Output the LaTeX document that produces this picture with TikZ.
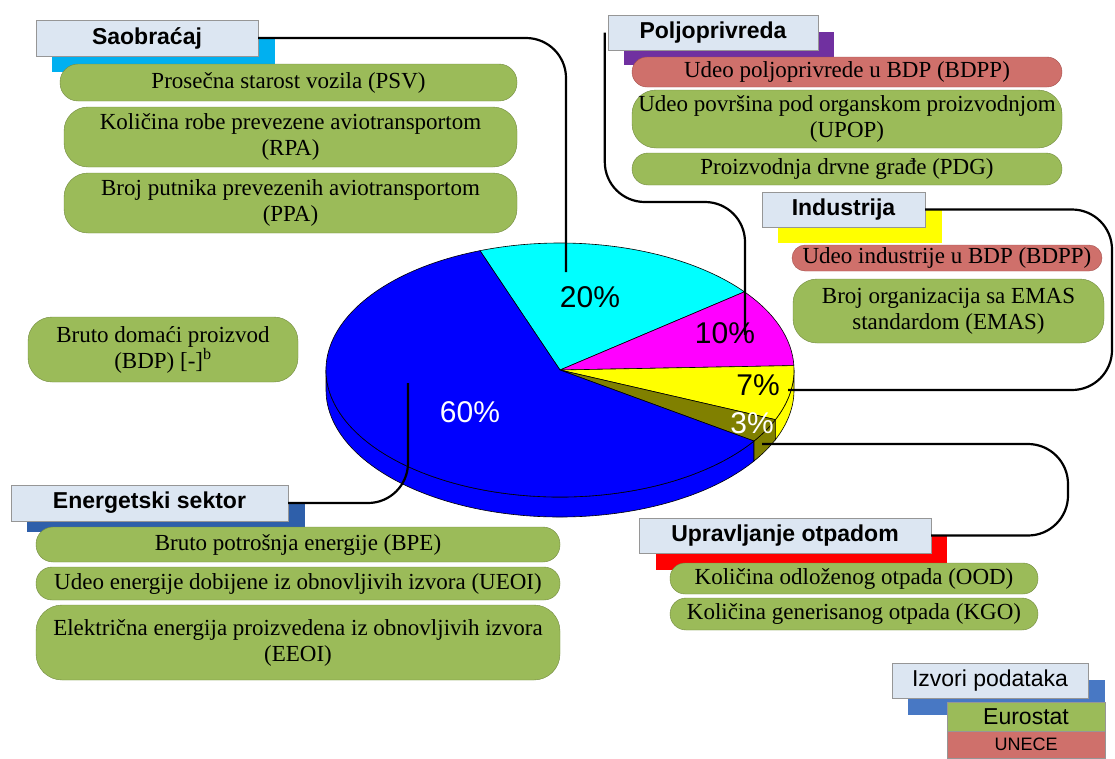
\documentclass[tikz,border=0pt]{standalone}
\usepackage{fontspec}
\setmainfont{Liberation Serif}
\setsansfont{Liberation Sans}
\definecolor{boxgreen}{RGB}{155,187,89}
\definecolor{boxgreenline}{RGB}{113,137,63}
\definecolor{boxred}{RGB}{207,112,107}
\definecolor{boxredline}{RGB}{165,80,76}
\definecolor{hdrfill}{RGB}{220,230,242}
\definecolor{hdrline}{RGB}{150,150,150}
\definecolor{shcyan}{RGB}{0,176,240}
\definecolor{shpurple}{RGB}{112,48,160}
\definecolor{shblue}{RGB}{46,95,170}
\definecolor{shlegend}{RGB}{72,120,196}
\definecolor{shyellow}{RGB}{255,255,0}
\definecolor{shred}{RGB}{255,0,0}
\definecolor{pieblue}{RGB}{0,0,255}
\definecolor{piecyan}{RGB}{0,255,255}
\definecolor{piemag}{RGB}{255,0,255}
\definecolor{pieyellow}{RGB}{255,255,0}
\definecolor{pieolive}{RGB}{128,128,0}
\begin{document}
\begin{tikzpicture}[x=1pt,y=-1pt,
  hdr/.style={draw=hdrline,fill=hdrfill,inner sep=0pt,font=\fontsize{23}{26}\selectfont\sffamily\bfseries},
  ind/.style={draw=boxgreenline,fill=boxgreen,rounded corners=15pt,inner sep=0pt,align=center,font=\fontsize{23}{26}\selectfont},
  indr/.style={ind,draw=boxredline,fill=boxred},
  src/.style={draw=hdrline,inner sep=0pt,font=\fontsize{23}{26}\selectfont\sffamily},
  pct/.style={inner sep=0pt,font=\fontsize{30}{30}\selectfont\sffamily},
  link/.style={line width=2.2pt,rounded corners=40pt}]
\useasboundingbox (0,0) rectangle (1115,758);
% pie
\begin{scope}[shift={(560,370)},x=1pt,y=1pt,line width=.6pt]
\foreach \a/\b/\c in {180/326/pieblue,326/337/pieolive,337/360/pieyellow}
  \filldraw[fill=\c] (\a:234pt and 127pt) arc[start angle=\a,end angle=\b,x radius=234pt,y radius=127pt]
    -- ++(0,-20) arc[start angle=\b,end angle=\a,x radius=234pt,y radius=127pt] -- cycle;
\foreach \a/\b/\c in {38/110/piecyan,2/38/piemag,-23/2/pieyellow,-34/-23/pieolive,110/326/pieblue}
  \filldraw[fill=\c] (0,0) -- (\a:234pt and 127pt) arc[start angle=\a,end angle=\b,x radius=234pt,y radius=127pt] -- cycle;
\end{scope}
\node[pct] (p20) at (590,297) {20\%};
\node[pct] (p10) at (725,333) {10\%};
\node[pct] (p7) at (758,385) {7\%};
\node[pct,white] (p3) at (752,423) {3\%};
\node[pct,white] (p60) at (470,412) {60\%};
% Saobracaj
\fill[shcyan] (52,37) rectangle (275,72);
\node[hdr,minimum width=222,minimum height=36] (hS) at (147,38) {Saobraćaj};
\node[ind,rounded corners=18pt,minimum width=457,minimum height=37] (psv) at (288.5,82.5) {Prosečna starost vozila (PSV)};
\node[ind,rounded corners=24pt,minimum width=453,minimum height=60] (rpa) at (290.5,137) {Količina robe prevezene aviotransportom\\(RPA)};
\node[ind,rounded corners=24pt,minimum width=453,minimum height=60] (ppa) at (290.5,203) {Broj putnika prevezenih aviotransportom\\(PPA)};
% Poljoprivreda
\fill[shpurple] (624,32) rectangle (834,65);
\node[hdr,minimum width=210,minimum height=35] (hP) at (713,32.5) {Poljoprivreda};
\node[indr,minimum width=430,minimum height=30] (bdpp) at (847,72) {Udeo poljoprivrede u BDP (BDPP)};
\node[ind,rounded corners=24pt,minimum width=430,minimum height=58] (upop) at (847,119) {Udeo površina pod organskom proizvodnjom\\(UPOP)};
\node[ind,rounded corners=16pt,minimum width=430,minimum height=32] (pdg) at (847,169) {Proizvodnja drvne građe (PDG)};
% Industrija
\fill[shyellow] (778,210) rectangle (942,243);
\node[hdr,minimum width=163,minimum height=35] (hI) at (843.5,209.5) {Industrija};
\node[indr,rounded corners=13pt,minimum width=310,minimum height=26] (bdppi) at (947,258) {Udeo industrije u BDP (BDPP)};
\node[ind,rounded corners=24pt,minimum width=311,minimum height=64] (emas) at (948.5,311) {Broj organizacija sa EMAS\\standardom (EMAS)};
% Energetski sektor
\fill[shblue] (27,503) rectangle (305,532);
\node[hdr,minimum width=277,minimum height=36] (hE) at (149.5,503) {Energetski sektor};
\node[ind,rounded corners=17pt,minimum width=524,minimum height=35] (bpe) at (298,544.5) {Bruto potrošnja energije (BPE)};
\node[ind,rounded corners=16pt,minimum width=524,minimum height=33] (ueoi) at (298,583.5) {Udeo energije dobijene iz obnovljivih izvora (UEOI)};
\node[ind,rounded corners=26pt,minimum width=524,minimum height=75] (eeoi) at (298,642.5) {Električna energija proizvedena iz obnovljivih izvora\\(EEOI)};
% Upravljanje otpadom
\fill[shred] (656,536) rectangle (947,570);
\node[hdr,minimum width=292,minimum height=35] (hU) at (785,535.5) {Upravljanje otpadom};
\node[ind,minimum width=368,minimum height=31] (ood) at (854,578.5) {Količina odloženog otpada (OOD)};
\node[ind,rounded corners=16pt,minimum width=368,minimum height=32] (kgo) at (854,614) {Količina generisanog otpada (KGO)};
% BDP
\node[ind,rounded corners=24pt,minimum width=270,minimum height=65] (bdp) at (163,349.5) {Bruto domaći proizvod\\(BDP) [-]\textsuperscript{b}};
% izvori podataka
\fill[shlegend] (908,680) rectangle (1105,715);
\node[src,fill=hdrfill,minimum width=196,minimum height=35] (hL) at (990,680.5) {Izvori podataka};
\node[src,fill=boxgreen,minimum width=158,minimum height=29] (eurostat) at (1026,716.5) {Eurostat};
\node[src,fill=boxred,minimum width=158,minimum height=27,font=\fontsize{18}{20}\selectfont\sffamily] (unece) at (1026,744.5) {UNECE};
% veze
\coordinate (cS) at (566,272);
\coordinate (cP) at (745,335);
\coordinate (cI) at (788,390);
\coordinate (cE) at (408,383);
\coordinate (cU) at (762,444);
\draw[link] (hS.east) -| (cS);
\draw[link] ([xshift=-3pt]hP.west) |- (745,202) -- (cP);
\draw[link] (hI.east) -- (1112,209.5) -- (1112,390) -- (cI);
\draw[link] (hE.east) -| (cE);
\draw[link] (hU.east) -- (1068,535.5) -- (1068,444) -- (cU);
\end{tikzpicture}
\end{document}
